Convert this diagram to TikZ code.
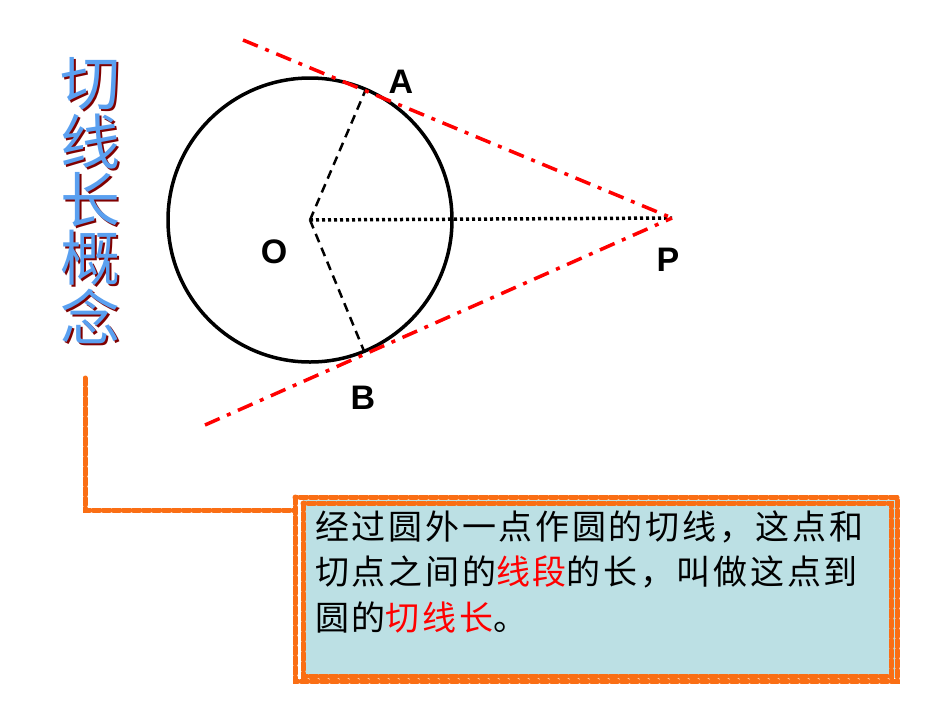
\documentclass[tikz,border=0pt]{standalone}
\usepackage{fontspec}
\setmainfont{Liberation Sans}
\newfontfamily\cjk{Noto Sans CJK SC}
\definecolor{boxfill}{RGB}{188,224,228}
\definecolor{orng}{RGB}{250,110,20}
\definecolor{ttlblue}{RGB}{90,160,240}
\begin{document}
\begin{tikzpicture}[x=1pt,y=-1pt,
  lbl/.style={font=\bfseries\fontsize{34}{34}\selectfont},
  tang/.style={red,line width=3.5pt,dash pattern=on 16pt off 8pt on 4pt off 8pt},
  orngline/.style={draw=orng,line width=5pt,dash pattern=on 7pt off 3pt,line cap=round},
  ttl/.style={font=\cjk\fontsize{60}{60}\selectfont,text=ttlblue},
  ttls/.style={font=\cjk\fontsize{60}{60}\selectfont,text=red!50!black},
  body/.style={font=\cjk\fontsize{34}{34}\selectfont\addfontfeatures{LetterSpace=8},anchor=west,inner sep=0pt}]
\useasboundingbox (0,0) rectangle (950,713);
\coordinate (O) at (310,220);
\coordinate (P) at (672,218);
\coordinate (A) at (366,89);
\coordinate (B) at (364,351);
\node[circle,draw,line width=3.5pt,minimum size=284pt,inner sep=0pt] (C) at (O) {};
\draw[line width=2.5pt,dash pattern=on 9pt off 6pt] (O) -- (A);
\draw[line width=2.5pt,dash pattern=on 9pt off 6pt] (O) -- (B);
\draw[line width=3.5pt,dash pattern=on 3pt off 3pt] (O) -- (P);
\coordinate (T1) at (243,40);
\coordinate (T2) at (205,425);
\draw[tang] (T1) -- (P);
\draw[tang] (T2) -- (P);
\node[lbl] (la) at (401,82) {A};
\node[lbl] (lb) at (363,398) {B};
\node[lbl] (lo) at (274,252) {O};
\node[lbl] (lp) at (668,260) {P};
\foreach \c [count=\i] in {切,线,长,概,念}{
  \node[ttls] (s\i) at (92,{28+58*\i}) {\c};
  \node[ttl] (t\i) at (90,{26+58*\i}) {\c};
}
\node[fill=boxfill,minimum width=592pt,minimum height=178pt,inner sep=0pt] (box) at (599,589) {};
\draw[orngline] (295,497) rectangle (897,681);
\draw[orngline] (303,503) rectangle (891,676);
\coordinate (c1) at (85,378);
\coordinate (c2) at (85,510);
\coordinate (c3) at (295,510);
\draw[orngline] (c1) -- (c2) -- (c3);
\node[body] (l1) at (315,527) {经过圆外一点作圆的切线，这点和};
\node[body] (l2) at (315,572) {切点之间的\textcolor{red}{线段}的长，叫做这点到};
\node[body] (l3) at (315,617) {圆的\textcolor{red}{切线长}。};
\end{tikzpicture}
\end{document}
